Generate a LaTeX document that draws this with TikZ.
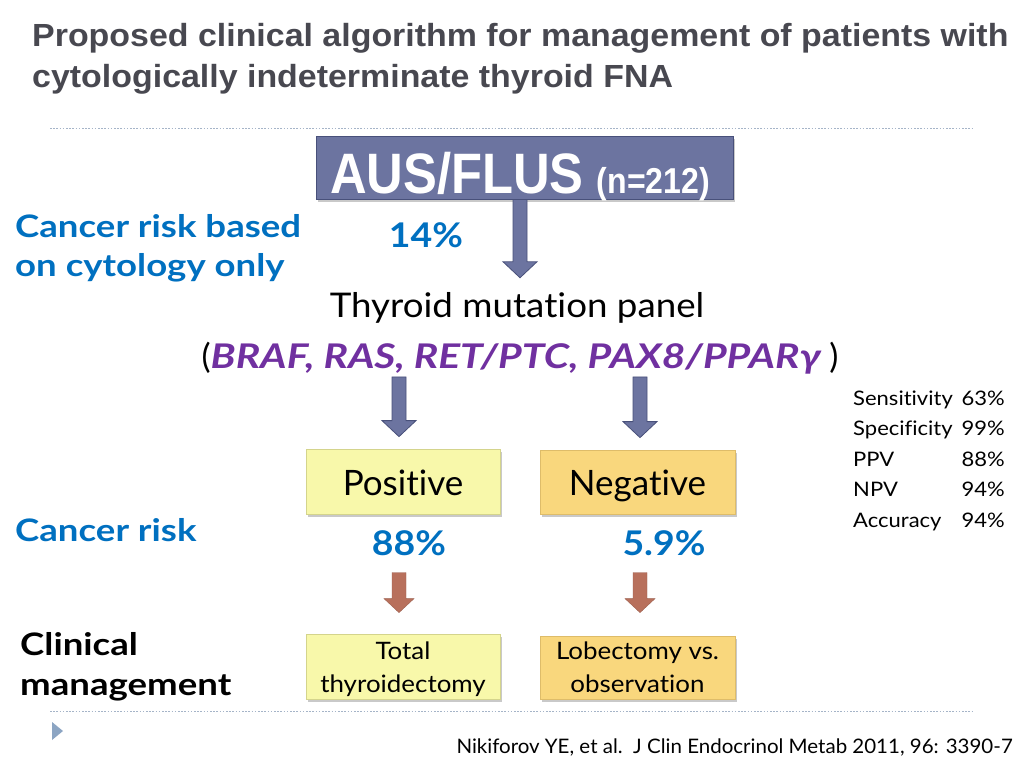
\documentclass[tikz,border=0pt]{standalone}
\usepackage{fontspec}
\defaultfontfeatures{Ligatures=NoCommon}
\setmainfont{Lato}
\newfontfamily\titlef[FakeStretch=1.06]{Liberation Sans}
\newfontfamily\ausf[FakeStretch=0.89]{Liberation Sans}
\newfontfamily\lblf[FakeStretch=1.18]{Lato}
\newfontfamily\pctf[FakeStretch=1.1]{Lato}
\newfontfamily\genf[FakeStretch=1.2]{Lato}
\newfontfamily\panelf[FakeStretch=1.08]{Lato}
\newfontfamily\statf[FakeStretch=1.1]{Lato}
\newfontfamily\citef[FakeStretch=1.025]{Lato}
\usetikzlibrary{calc,shadows}
\definecolor{slate}{RGB}{108,116,160}
\definecolor{slateline}{RGB}{72,80,122}
\definecolor{lblue}{RGB}{0,112,192}
\definecolor{purp}{RGB}{112,48,160}
\definecolor{titlegray}{RGB}{72,72,80}
\definecolor{posfill}{RGB}{248,248,170}
\definecolor{posline}{RGB}{212,212,140}
\definecolor{negfill}{RGB}{249,215,125}
\definecolor{negline}{RGB}{222,188,105}
\definecolor{brownarr}{RGB}{184,112,92}
\definecolor{dotline}{RGB}{165,180,200}
\definecolor{tri}{RGB}{140,165,195}
\newcommand\fatarr[6]{%
  \path[#1] let \p1=#2, \p2=#3 in
    (\x1-#4,\y1) -- (\x1-#4,\y2+#6) -- (\x1-#5,\y2+#6) -- (\x1,\y2)
    -- (\x1+#5,\y2+#6) -- (\x1+#4,\y2+#6) -- (\x1+#4,\y1) -- cycle;}
\tikzset{
  bluelbl/.style={text=lblue, font=\lblf\bfseries\fontsize{31}{39}\selectfont, align=left, inner sep=0pt},
  pct/.style={text=lblue, font=\pctf\bfseries\fontsize{34}{34}\selectfont, inner sep=0pt, anchor=base},
  slatearrow/.style={fill=slate, draw=slateline, line width=0.8pt, line join=miter},
  brownarrow/.style={fill=brownarr, draw=brownarr!85!black, line width=0.4pt},
  shad/.style={drop shadow={shadow xshift=2pt, shadow yshift=-2.5pt, opacity=0.35, fill=black!60}},
  posbox/.style={shad, fill=posfill, draw=posline, line width=0.8pt, minimum width=194pt, inner sep=0pt},
  negbox/.style={shad, fill=negfill, draw=negline, line width=0.8pt, minimum width=195pt, inner sep=0pt},
  stat/.style={font=\statf\fontsize{20}{20}\selectfont, inner sep=0pt},
  dotsep/.style={draw=dotline, line width=0.9pt, dash pattern=on 1.6pt off 1.6pt}
}
\begin{document}
\begin{tikzpicture}[x=1pt,y=-1pt]
\fill[white] (0,0) rectangle (1024,768);
\useasboundingbox (0,0) rectangle (1024,768);

% title
\node[anchor=base west, inner sep=0pt, text=titlegray, align=left,
  font=\titlef\bfseries\fontsize{32}{40}\selectfont] (title) at (32,87)
  {Proposed clinical algorithm for management of patients with\\cytologically indeterminate thyroid FNA};

\draw[dotsep] (50,128) -- (972,128);
\draw[dotsep] (50,711) -- (972,711);
\fill[tri] (52,722) -- (63,731) -- (52,740) -- cycle;

% AUS/FLUS box
\node[shad, fill=slate, draw=slateline, line width=1pt, minimum width=417pt, minimum height=63pt,
  inner sep=0pt, text=white, font=\ausf\bfseries, text height=55pt, text depth=4pt] (aus) at (524.5,167.5)
  {\hspace*{-9pt}{\fontsize{57}{57}\selectfont AUS/FLUS}\hspace{13pt}{\fontsize{36}{36}\selectfont(n=212)}};

% left labels
\node[bluelbl, anchor=base west] (lbl1) at (15,276) {Cancer risk based\\on cytology only};
\node[pct] (p14) at (426,247) {14\%};

% panel text
\node[anchor=base, inner sep=0pt, font=\panelf\fontsize{34}{34}\selectfont] (panel) at (517,317) {Thyroid mutation panel};
\node[anchor=base, inner sep=0pt, font=\fontsize{34}{34}\selectfont] (genes) at (520,368)
  {(\textcolor{purp}{\genf\bfseries\itshape BRAF, RAS, RET/PTC, PAX8/PPARγ} )};

\fatarr{slatearrow}{($(aus.south)+(-4.5,0)$)}{($(panel.north)+(0,-14)$)}{7pt}{17pt}{16pt}

% result boxes
\node[posbox, minimum height=65pt, text height=30pt, text depth=3pt, font=\fontsize{35}{35}\selectfont] (pos) at (403,481.5) {Positive};
\node[negbox, minimum height=64pt, text height=30pt, text depth=3pt, font=\fontsize{35}{35}\selectfont] (neg) at (637.5,482) {Negative};

\fatarr{slatearrow}{($(pos.north |- genes.south)+(-4,3)$)}{($(pos.north)+(-4,-12)$)}{7pt}{17pt}{16pt}
\fatarr{slatearrow}{($(neg.north |- genes.south)+(2.5,3)$)}{($(neg.north)+(2.5,-12)$)}{7pt}{17pt}{16pt}

\node[bluelbl, anchor=base west] (lbl2) at (15,541) {Cancer risk};
\node[pct] (p88) at (409,555) {88\%};
\node[pct] (p59) at (664,555) {5.9\%};

% management boxes
\node[posbox, minimum height=65pt, align=center, text height=51pt, text depth=0pt,
  font=\panelf\fontsize{24}{33}\selectfont] (tot) at (403,666.5) {Total\\thyroidectomy};
\node[negbox, minimum height=63pt, align=center, text height=49pt, text depth=0pt,
  font=\panelf\fontsize{24}{33}\selectfont] (lob) at (637.5,667.5) {Lobectomy vs.\\observation};

\fatarr{brownarrow}{($(p88.south -| tot.north)+(-4,17)$)}{($(tot.north)+(-4,-21)$)}{7pt}{15pt}{14pt}
\fatarr{brownarrow}{($(p59.south -| lob.north)+(2.5,17)$)}{($(lob.north)+(2.5,-23)$)}{7pt}{15pt}{14pt}

\node[anchor=base west, inner sep=0pt, align=left, font=\lblf\bfseries\fontsize{31}{40}\selectfont] (lbl3) at (20,695) {Clinical\\management};

% stats
\node[stat, anchor=base west] (s1) at (853,405) {Sensitivity};
\node[stat, anchor=base west] (s2) at (853,435.5) {Specificity};
\node[stat, anchor=base west] (s3) at (853,466) {PPV};
\node[stat, anchor=base west] (s4) at (853,496.5) {NPV};
\node[stat, anchor=base west] (s5) at (853,527) {Accuracy};
\node[stat, anchor=base east] (v1) at (1005,405) {63\%};
\node[stat, anchor=base east] (v2) at (1005,435.5) {99\%};
\node[stat, anchor=base east] (v3) at (1005,466) {88\%};
\node[stat, anchor=base east] (v4) at (1005,496.5) {94\%};
\node[stat, anchor=base east] (v5) at (1005,527) {94\%};

% citation
\node[anchor=base east, inner sep=0pt, font=\citef\fontsize{20}{20}\selectfont] (cite) at (1013,753)
  {Nikiforov YE, et al.\ \ J Clin Endocrinol Metab 2011, 96: 3390-7};
\end{tikzpicture}
\end{document}
